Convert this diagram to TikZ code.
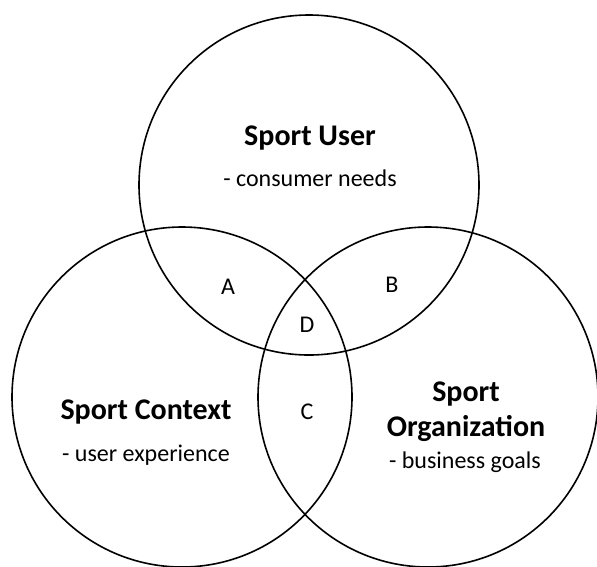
\documentclass[tikz,border=0pt]{standalone}
\usepackage{fontspec}
\setmainfont{Carlito}
\usetikzlibrary{positioning}

\tikzset{
  set/.style={circle, draw, line width=1.6pt, minimum size=340pt, inner sep=0pt},
  title/.style={font=\fontsize{30}{35}\selectfont\bfseries, align=center, inner sep=0.75pt},
  note/.style={font=\fontsize{24}{28}\selectfont, inner sep=0.75pt},
  part/.style={font=\fontsize{24}{28}\selectfont, inner sep=0.75pt}
}

\begin{document}
\begin{tikzpicture}[x=1pt,y=1pt,yscale=-1,xscale=1]
\useasboundingbox (0,0) rectangle (597,566);

%Shape: Circles
\node [set] (user) at (309,185) {};
\node [set] (context) at (182,397) {};
\node [set] (org) at (428,397) {};

% Text Node
\node [title] (usertitle) at (310,138) {Sport User};
\node [note] (userneed) at (310,178) {- consumer needs};
% Text Node
\node [title] (contexttitle) at (146,412) {Sport Context};
\node [note] (contextneed) at (146,455) {- user experience};
% Text Node
\node [title] (orgtitle) at (466,412) {Sport\\Organization};
\node [note] (orgneed) at (465,462) {- business goals};

% Overlaps
\node [part] (a) at (228,287) {A};
\node [part] (b) at (392,285) {B};
\node [part] (d) at (307,325) {D};
\node [part] (c) at (307,412) {C};

\end{tikzpicture}
\end{document}
